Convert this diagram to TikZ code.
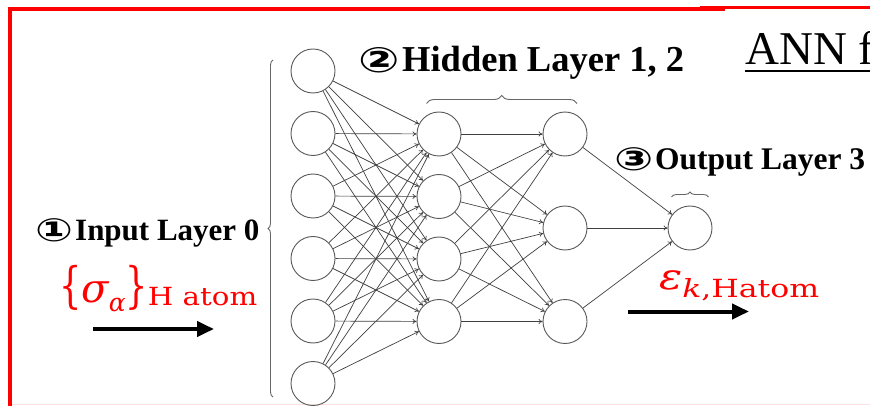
\RequirePackage{fix-cm}
\documentclass[tikz,border=0pt]{standalone}
\usepackage{graphicx}
\usepackage{fontspec}
\setmainfont{Liberation Serif}
\newfontfamily\circfont{DejaVu Sans}
\newfontfamily\symfont{DejaVu Serif}
\usetikzlibrary{arrows.meta,decorations.pathreplacing}

% tall curly brackets and lowered subscripts for the red quantities
\newcommand{\tallbrace}[1]{\scalebox{1}[1.4]{#1}}
\newcommand{\lowsub}[3]{\raisebox{-#1}{\scalebox{#2}[1]{\fontsize{25}{28}\selectfont #3}}}

\begin{document}
\begin{tikzpicture}[x=1pt,y=-1pt,
  neuron/.style={circle,draw=black!65,line width=0.9pt,minimum size=44pt,inner sep=0pt},
  link/.style={draw=black!75,line width=0.7pt,-{To[length=4pt,width=5pt]}},
  bigarrow/.style={draw=black,line width=4pt,-{Triangle[length=17pt,width=15pt]}},
  layerlabel/.style={anchor=base west,inner sep=0pt,font=\bfseries},
  circnum/.style={anchor=base east,inner sep=0pt,font=\circfont\bfseries},
  bracegray/.style={draw=black!60,line width=0.9pt,decorate},
  redmath/.style={anchor=base west,inner sep=0pt,text=red,font=\symfont},
  frame/.style={draw=red,line width=4pt}]

\useasboundingbox (0,0) rectangle (870,406);
\fill[white] (0,0) rectangle (870,406);

% red frame
\draw[frame] (9.5,412) -- (9.5,9) -- (725,9);
\draw[red,line width=3.5pt] (700,7.5) -- (875,7.5);
\draw[red!12,line width=1pt] (12,404.5) -- (870,404.5);

% input layer
\foreach \k/\yy in {1/71,2/133.5,3/196,4/258.5,5/321,6/383.5}
  \node[neuron] (i\k) at (313,\yy) {};
% hidden layer 1
\foreach \k/\yy in {1/134,2/196.5,3/259,4/321.5}
  \node[neuron] (h\k) at (439,\yy) {};
% hidden layer 2
\foreach \k/\yy in {1/134,2/228,3/321.5}
  \node[neuron] (g\k) at (565,\yy) {};
% output layer
\node[neuron] (o) at (690,228) {};

% connections
\foreach \a in {1,...,6}
  \foreach \b in {1,...,4}
    \draw[link] (i\a) -- (h\b);
\foreach \a in {1,...,4}
  \foreach \b in {1,...,3}
    \draw[link] (h\a) -- (g\b);
\foreach \a in {1,...,3}
  \draw[link] (g\a) -- (o);

% braces
\draw[bracegray,decoration={brace,amplitude=5pt}] (273,397) -- (273,60);
\draw[bracegray,decoration={brace,amplitude=8pt}] (426.5,103.5) -- (577,103.5);
\draw[bracegray,decoration={brace,amplitude=5pt}] (671.5,197) -- (708.5,197);

% layer labels
\node[layerlabel] (lhid) at (402,71.5)
  {\fontsize{36.5}{40}\selectfont Hidden Layer 1, 2};
\node[circnum] (nhid) at ([xshift=-1.5pt,yshift=-1pt]lhid.base west)
  {\scalebox{1.4}[1]{\fontsize{35}{40}\selectfont ②}};
\node[layerlabel] (lin) at (75,240.5)
  {\fontsize{31}{36}\selectfont Input Layer 0};
\node[circnum] (nin) at ([xshift=-1.5pt,yshift=-1pt]lin.base west)
  {\scalebox{1.4}[1]{\fontsize{32}{36}\selectfont ①}};
\node[layerlabel] (lout) at (655,170)
  {\fontsize{31.5}{36}\selectfont Output Layer 3};
\node[circnum] (nout) at ([xshift=-1.5pt,yshift=-1pt]lout.base west)
  {\scalebox{1.45}[1]{\fontsize{32}{36}\selectfont ③}};

% title
\node[anchor=base west,inner sep=0pt] (title) at (745,65)
  {\fontsize{47}{52}\selectfont ANN f};
\draw[black,line width=2.5pt] (745,71) -- (875,71);

% input / output quantities
\node[redmath] (sig) at (59,302)
  {\fontsize{35}{40}\selectfont
   \tallbrace{\{}{\fontsize{40}{44}\selectfont\itshape σ}\lowsub{9pt}{1}{\itshape α}\tallbrace{\}}\lowsub{3pt}{1.17}{H atom}};
\node[redmath] (eps) at (659,289)
  {\scalebox{1.2}[1]{\fontsize{36}{44}\selectfont
   {\itshape ε}\lowsub{8pt}{1.05}{{\itshape k},Hatom}}};

% flow arrows
\coordinate (ains) at (93,329);
\coordinate (aine) at (214,329);
\coordinate (aouts) at (628,311.5);
\coordinate (aoute) at (749,311.5);
\draw[bigarrow] (ains) -- (aine);
\draw[bigarrow] (aouts) -- (aoute);

\end{tikzpicture}
\end{document}
